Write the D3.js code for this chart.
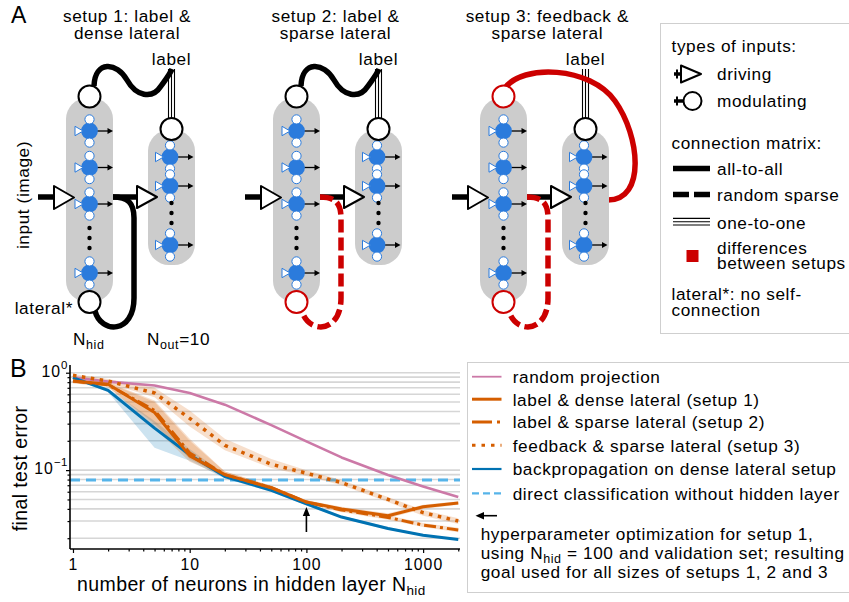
<!DOCTYPE html>
<html>
<head>
<meta charset="utf-8">
<script src="https://cdn.jsdelivr.net/npm/d3@7"></script>
<style>
  body { margin: 0; background: #fff; }
  text { font-family: "Liberation Sans", Arial, Helvetica, sans-serif; }
</style>
</head>
<body>
<script>
// ---------- panel B data: final test error vs. hidden layer size ----------
const nHidden = [1, 2, 5, 10, 20, 50, 100, 200, 500, 1000, 2000];

const randomProjection = [0.89, 0.81, 0.74, 0.62, 0.47, 0.29, 0.197, 0.135, 0.089, 0.068, 0.053];

const labelDense      = [0.82, 0.76, 0.39, 0.14, 0.09, 0.066, 0.047, 0.040, 0.034, 0.042, 0.046];
const labelDenseLow   = [0.78, 0.72, 0.27, 0.122, 0.085, 0.063, 0.045, 0.038, 0.032, 0.040, 0.044];
const labelDenseHigh  = [0.86, 0.80, 0.52, 0.21, 0.097, 0.069, 0.049, 0.042, 0.036, 0.044, 0.048];

const labelSparse     = [0.82, 0.75, 0.41, 0.15, 0.09, 0.066, 0.047, 0.039, 0.0327, 0.0273, 0.0243];
const labelSparseLow  = [0.78, 0.71, 0.30, 0.13, 0.085, 0.063, 0.045, 0.037, 0.031, 0.026, 0.023];
const labelSparseHigh = [0.86, 0.79, 0.50, 0.20, 0.097, 0.069, 0.049, 0.041, 0.0345, 0.0287, 0.0256];

const feedbackSparse     = [0.94, 0.82, 0.62, 0.34, 0.18, 0.115, 0.093, 0.0745, 0.050, 0.0366, 0.030];
const feedbackSparseLow  = [0.91, 0.78, 0.56, 0.28, 0.16, 0.105, 0.087, 0.070, 0.047, 0.034, 0.028];
const feedbackSparseHigh = [0.97, 0.86, 0.70, 0.41, 0.21, 0.130, 0.100, 0.079, 0.053, 0.039, 0.032];

const backprop     = [0.89, 0.66, 0.27, 0.144, 0.086, 0.062, 0.045, 0.033, 0.0252, 0.0215, 0.0194];
const backpropLow  = [0.87, 0.63, 0.17, 0.125, 0.082, 0.060, 0.0435, 0.032, 0.0245, 0.021, 0.019];
const backpropHigh = [0.91, 0.69, 0.32, 0.165, 0.090, 0.064, 0.0465, 0.034, 0.026, 0.022, 0.0198];

const directClassification = 0.079;
const optimizedSize = 100;

const xMajorTicks = [1, 10, 100, 1000];
const xMinorTicks = [2,3,4,5,6,7,8,9, 20,30,40,50,60,70,80,90, 200,300,400,500,600,700,800,900, 2000];
const yMajorTicks = [1, 0.1];
const yMajorLabels = [["10", "0"], ["10", "\u22121"]];
const yGridValues = [0.02,0.03,0.04,0.05,0.06,0.07,0.08,0.09, 0.1,0.2,0.3,0.4,0.5,0.6,0.7,0.8,0.9, 1];

const legendLabels = [
  "random projection",
  "label & dense lateral (setup 1)",
  "label & sparse lateral (setup 2)",
  "feedback & sparse lateral (setup 3)",
  "backpropagation on dense lateral setup",
  "direct classification without hidden layer"
];
const noteLines = [
  ["hyperparameter optimization for setup 1,"],
  ["using N", "hid", " = 100 and validation set; resulting"],
  ["goal used for all sizes of setups 1, 2 and 3"]
];

// ---------- panel A content ----------
const setupTitles = [
  ["setup 1: label &", "dense lateral"],
  ["setup 2: label &", "sparse lateral"],
  ["setup 3: feedback &", "sparse lateral"]
];
const lateralKinds = ["dense", "sparse", "sparse"];
const topInputKinds = ["label", "label", "feedback"];
const legendAInputs = ["driving", "modulating"];
const legendAMatrices = ["all-to-all", "random sparse", "one-to-one"];

// ---------- styling ----------
const FONT = 17.2, LS = 0.6;
const BLUE_N = "#2b7bdc", GRAY = "#cccccc", RED = "#cc0000";
const C_PINK = "#cc79a7", C_ORANGE = "#d55e00", C_BLUE = "#0072b2", C_LIGHT = "#56b4e9";

const svg = d3.select("body").append("svg")
  .attr("width", 849).attr("height", 602)
  .style("display", "block");

function txt(parent, x, y, s, opts = {}) {
  return parent.append("text")
    .attr("x", x).attr("y", y)
    .attr("font-size", opts.size || FONT)
    .attr("letter-spacing", opts.ls === undefined ? LS : opts.ls)
    .attr("text-anchor", opts.anchor || "start")
    .attr("fill", "#000")
    .text(s);
}

// ================= PANEL A =================
txt(svg, 11, 23, "A", { size: 23, ls: 0 });

const setupOffsets = [0, 207, 414];
const titleCenters = [127, 335.5, 547.3];
const HX = 89.5, OX = 171.5;          // hidden / output column centres (local)
const hiddenNeuronsY = [131, 167.5, 204, 273];
const hiddenDotsY = [228, 238, 248];
const outputNeuronsY = [157, 186, 245];
const outputDotsY = [203, 213, 223];
const LINE_Y = 197;

function neuron(g, cx, cy) {
  g.append("line").attr("x1", cx + 7).attr("x2", cx + 19).attr("y1", cy).attr("y2", cy)
    .attr("stroke", "#000").attr("stroke-width", 1.3);
  g.append("path").attr("d", `M${cx + 18},${cy - 2.9}L${cx + 23.5},${cy}L${cx + 18},${cy + 2.9}Z`)
    .attr("fill", "#000");
  g.append("circle").attr("cx", cx).attr("cy", cy).attr("r", 8.4).attr("fill", BLUE_N);
  [-11.6, 11.6].forEach(d => g.append("circle").attr("cx", cx).attr("cy", cy + d).attr("r", 4.6)
    .attr("fill", "#fff").attr("stroke", BLUE_N).attr("stroke-width", 1));
  g.append("path").attr("d", `M${cx - 14.5},${cy - 4.7}L${cx - 6.4},${cy}L${cx - 14.5},${cy + 4.7}Z`)
    .attr("fill", "#fff").attr("stroke", BLUE_N).attr("stroke-width", 1).attr("stroke-linejoin", "round");
}

function drivingTriangle(g, x0, x1, cy, h) {
  g.append("path").attr("d", `M${x0},${cy - h}L${x1},${cy}L${x0},${cy + h}Z`)
    .attr("fill", "#fff").attr("stroke", "#000").attr("stroke-width", 2).attr("stroke-linejoin", "round");
}

function tripleLine(g, cx, y0, y1) {
  [-3, 0, 3].forEach(d => g.append("line").attr("x1", cx + d).attr("x2", cx + d)
    .attr("y1", y0).attr("y2", y1).attr("stroke", "#000").attr("stroke-width", 1.1));
}

setupTitles.forEach((title, i) => {
  const g = svg.append("g").attr("transform", `translate(${setupOffsets[i]},0)`);
  const tc = titleCenters[i] - setupOffsets[i];
  txt(g, tc, 22, title[0], { anchor: "middle" });
  txt(g, tc, 38.5, title[1], { anchor: "middle" });

  // label input: one-to-one into the output layer
  txt(g, OX, 65, "label", { anchor: "middle" });
  tripleLine(g, OX, 69, 119);

  // modulating input onto the hidden layer (from label or feedback from output)
  if (topInputKinds[i] === "label") {
    g.append("path")
      .attr("d", "M94,86 C95,60 117,62 127,80 C136,96 152,100 161,86 C166,79 170,74 172,69")
      .attr("fill", "none").attr("stroke", "#000").attr("stroke-width", 5.5);
  } else {
    g.append("path")
      .attr("d", "M91,88 C108,64 176,66 201,101 C226,136 232,200 194,200")
      .attr("fill", "none").attr("stroke", RED).attr("stroke-width", 5.5);
  }

  // layers
  g.append("rect").attr("x", HX - 23.5).attr("y", 98).attr("width", 47).attr("height", 204)
    .attr("rx", 21).attr("fill", GRAY);
  g.append("rect").attr("x", OX - 23.5).attr("y", 130).attr("width", 47).attr("height", 135)
    .attr("rx", 21).attr("fill", GRAY);

  // feedforward drive: input -> hidden -> output
  g.append("line").attr("x1", 38).attr("x2", 56).attr("y1", LINE_Y).attr("y2", LINE_Y)
    .attr("stroke", "#000").attr("stroke-width", 5.5);
  drivingTriangle(g, 54, 74, LINE_Y + 0.5, 11.5);
  g.append("line").attr("x1", HX + 23.5).attr("x2", 139).attr("y1", LINE_Y).attr("y2", LINE_Y)
    .attr("stroke", "#000").attr("stroke-width", 5.5);

  // lateral connection
  const lateral = g.append("path")
    .attr("d", "M113,197 C128,197 134,203 134,218 L134,298 C134,334 101,334 95,311")
    .attr("fill", "none").attr("stroke-width", 5.5);
  if (lateralKinds[i] === "dense") lateral.attr("stroke", "#000");
  else lateral.attr("stroke", RED).attr("stroke-dasharray", "13,5");

  drivingTriangle(g, 137, 157, LINE_Y, 11);

  hiddenNeuronsY.forEach(y => neuron(g, HX, y));
  hiddenDotsY.forEach(y => g.append("circle").attr("cx", HX).attr("cy", y).attr("r", 2.2).attr("fill", "#000"));
  outputNeuronsY.forEach(y => neuron(g, OX - 1.5, y));
  outputDotsY.forEach(y => g.append("circle").attr("cx", OX).attr("cy", y).attr("r", 2.2).attr("fill", "#000"));

  // modulating input sites
  const topRed = topInputKinds[i] === "feedback";
  const botRed = lateralKinds[i] !== "dense";
  g.append("circle").attr("cx", HX).attr("cy", 96.5).attr("r", 11)
    .attr("fill", "#fff").attr("stroke", topRed ? RED : "#000").attr("stroke-width", 2);
  g.append("circle").attr("cx", HX).attr("cy", 302).attr("r", 11)
    .attr("fill", "#fff").attr("stroke", botRed ? RED : "#000").attr("stroke-width", 2);
  g.append("circle").attr("cx", OX).attr("cy", 129).attr("r", 11)
    .attr("fill", "#fff").attr("stroke", "#000").attr("stroke-width", 2);

  if (i === 0) {
    txt(g, 0, 0, "input (image)", { anchor: "middle" })
      .attr("transform", "translate(29,195) rotate(-90)");
    txt(g, 73, 314, "lateral*", { anchor: "end" });
    const nh = txt(g, 73, 345, "N");
    nh.append("tspan").attr("font-size", 12.5).attr("dy", 4).text("hid");
    const no = txt(g, 147, 345, "N");
    no.append("tspan").attr("font-size", 12.5).attr("dy", 4).text("out");
    no.append("tspan").attr("dy", -4).text("=10");
  }
});

// legend of panel A
const legA = svg.append("g");
legA.append("rect").attr("x", 660.5).attr("y", 23.5).attr("width", 200).attr("height", 310)
  .attr("fill", "#fff").attr("stroke", "#cfcfcf").attr("stroke-width", 1);
txt(legA, 671.5, 51.5, "types of inputs:");
// driving
legA.append("line").attr("x1", 674).attr("x2", 682).attr("y1", 74).attr("y2", 74)
  .attr("stroke", "#000").attr("stroke-width", 3.5);
legA.append("line").attr("x1", 677).attr("x2", 677).attr("y1", 69.5).attr("y2", 78.5)
  .attr("stroke", "#000").attr("stroke-width", 2);
drivingTriangle(legA, 681, 701, 74, 8.5);
txt(legA, 717, 80, legendAInputs[0]);
// modulating
legA.append("line").attr("x1", 674).attr("x2", 684).attr("y1", 101).attr("y2", 101)
  .attr("stroke", "#000").attr("stroke-width", 3.5);
legA.append("line").attr("x1", 677).attr("x2", 677).attr("y1", 96.5).attr("y2", 105.5)
  .attr("stroke", "#000").attr("stroke-width", 2);
legA.append("circle").attr("cx", 692.5).attr("cy", 101).attr("r", 9)
  .attr("fill", "#fff").attr("stroke", "#000").attr("stroke-width", 2);
txt(legA, 717, 107, legendAInputs[1]);

txt(legA, 671.5, 148.5, "connection matrix:");
legA.append("line").attr("x1", 673).attr("x2", 710).attr("y1", 168.5).attr("y2", 168.5)
  .attr("stroke", "#000").attr("stroke-width", 5.5);
txt(legA, 717, 175, legendAMatrices[0]);
legA.append("line").attr("x1", 673).attr("x2", 710).attr("y1", 194.5).attr("y2", 194.5)
  .attr("stroke", "#000").attr("stroke-width", 5.5).attr("stroke-dasharray", "16,5");
txt(legA, 717, 201, legendAMatrices[1]);
tripleLine(legA, 0, 0, 0);
[-3.3, 0, 3.3].forEach(d => legA.append("line").attr("x1", 673).attr("x2", 710)
  .attr("y1", 221.7 + d).attr("y2", 221.7 + d).attr("stroke", "#000").attr("stroke-width", 1.1));
txt(legA, 717, 228.5, legendAMatrices[2]);
legA.append("rect").attr("x", 686.5).attr("y", 250).attr("width", 12).attr("height", 12).attr("fill", RED);
txt(legA, 717, 253.5, "differences");
txt(legA, 717, 268.5, "between setups");
txt(legA, 671.5, 300, "lateral*: no self-");
txt(legA, 671.5, 315.5, "connection");

// ================= PANEL B =================
txt(svg, 10, 377, "B", { size: 25, ls: 0 });

const x = d3.scaleLog().domain([0.943, 2070]).range([70, 460]);
const y = d3.scaleLog().domain([0.0155, 1.2]).range([549, 365]);

const plot = svg.append("g");

// horizontal grid
plot.append("g").selectAll("line").data(yGridValues).join("line")
  .attr("x1", 70).attr("x2", 460)
  .attr("y1", d => y(d)).attr("y2", d => y(d))
  .attr("stroke", "#d6d6d6").attr("stroke-width", 1.6);

// direct classification baseline
plot.append("line")
  .attr("x1", 70).attr("x2", 460)
  .attr("y1", y(directClassification)).attr("y2", y(directClassification))
  .attr("stroke", C_LIGHT).attr("stroke-width", 3).attr("stroke-dasharray", "10,6");

function rows(mid, lo, hi) {
  return nHidden.map((n, i) => ({ n, v: mid[i], lo: lo ? lo[i] : null, hi: hi ? hi[i] : null }));
}
const area = d3.area().x(d => x(d.n)).y0(d => y(d.lo)).y1(d => y(d.hi));
const line = d3.line().x(d => x(d.n)).y(d => y(d.v));

const bands = [
  { d: rows(feedbackSparse, feedbackSparseLow, feedbackSparseHigh), fill: C_ORANGE, op: 0.2 },
  { d: rows(backprop, backpropLow, backpropHigh), fill: C_BLUE, op: 0.2 },
  { d: rows(labelSparse, labelSparseLow, labelSparseHigh), fill: C_ORANGE, op: 0.2 },
  { d: rows(labelDense, labelDenseLow, labelDenseHigh), fill: C_ORANGE, op: 0.2 }
];
bands.forEach(b => plot.append("path").attr("d", area(b.d)).attr("fill", b.fill).attr("fill-opacity", b.op));

const seriesStyles = [
  { data: randomProjection, color: C_PINK, w: 2.6, dash: null, lw: 1.8, ldash: null },
  { data: labelDense, color: C_ORANGE, w: 3, dash: null, lw: 3, ldash: null },
  { data: labelSparse, color: C_ORANGE, w: 3, dash: "12,4,3,4", lw: 3, ldash: "20,5,3,5" },
  { data: feedbackSparse, color: C_ORANGE, w: 3.5, dash: "3.5,5.5", lw: 3, ldash: "3.5,6" },
  { data: backprop, color: C_BLUE, w: 3, dash: null, lw: 2.2, ldash: null },
  { data: null, color: C_LIGHT, w: 3, dash: "10,6", lw: 2.2, ldash: "7,4" }
];
const drawOrder = [0, 4, 2, 1, 3];
drawOrder.forEach(k => {
  const s = seriesStyles[k];
  const p = plot.append("path").attr("d", line(rows(s.data)))
    .attr("fill", "none").attr("stroke", s.color).attr("stroke-width", s.w)
    .attr("stroke-linejoin", "round");
  if (s.dash) p.attr("stroke-dasharray", s.dash);
});

// axes
const xAxis = plot.append("g").attr("transform", "translate(0,549)")
  .call(d3.axisBottom(x).tickValues(xMajorTicks).tickSize(4).tickSizeOuter(0)
    .tickPadding(6).tickFormat(d3.format("d")));
plot.append("g").attr("transform", "translate(0,549)")
  .call(d3.axisBottom(x).tickValues(xMinorTicks).tickSize(2.5).tickFormat(""))
  .call(g => g.select(".domain").remove());
const yAxis = plot.append("g").attr("transform", "translate(70,0)")
  .call(d3.axisLeft(y).tickValues(yMajorTicks).tickSize(4).tickSizeOuter(0).tickFormat(""));
plot.append("g").attr("transform", "translate(70,0)")
  .call(d3.axisLeft(y).tickValues(yGridValues.filter(v => yMajorTicks.indexOf(v) < 0)).tickSize(2.5).tickFormat(""))
  .call(g => g.select(".domain").remove());

svg.selectAll(".domain").attr("stroke", "#000").attr("stroke-width", 1.6);
svg.selectAll(".tick line").attr("stroke", "#000").attr("stroke-width", 1.2);
xAxis.selectAll("text").attr("font-size", 15.8).attr("letter-spacing", 1)
  .attr("font-family", "'Liberation Sans', Arial, sans-serif").attr("fill", "#000");
// extend the y-axis domain line to the top of the plot
yAxis.select(".domain").attr("d", `M0,549V365`);
xAxis.select(".domain").attr("d", `M70,0H460`);

yMajorTicks.forEach((v, i) => {
  const t = txt(plot, 68, y(v) + 4, yMajorLabels[i][0], { anchor: "end", size: 15.8, ls: 1 });
  t.append("tspan").attr("font-size", 11.5).attr("dy", -8).attr("letter-spacing", 0.5).text(yMajorLabels[i][1]);
});

// axis titles
txt(svg, 0, 0, "final test error", { anchor: "middle", size: 19.5, ls: 0.4 })
  .attr("transform", "translate(26.5,468.5) rotate(-90)");
const xl = txt(svg, 77, 590.5, "number of neurons in hidden layer N", { size: 19.5, ls: 0.4 });
xl.append("tspan").attr("font-size", 13.5).attr("dy", 4).text("hid");

// marker for the network size used during hyperparameter search
const ax = x(optimizedSize);
plot.append("line").attr("x1", ax).attr("x2", ax).attr("y1", 532).attr("y2", 514)
  .attr("stroke", "#000").attr("stroke-width", 1.6);
plot.append("path").attr("d", `M${ax - 3.6},${516}L${ax},${507}L${ax + 3.6},${516}Z`).attr("fill", "#000");

// legend of panel B
const legB = svg.append("g");
legB.append("rect").attr("x", 467.5).attr("y", 362.5).attr("width", 400).attr("height", 230)
  .attr("fill", "#fff").attr("stroke", "#cfcfcf").attr("stroke-width", 1);
const rowY = [376.7, 399.2, 421.9, 445.2, 469, 493.3];
legendLabels.forEach((lab, i) => {
  const s = seriesStyles[i];
  const l = legB.append("line").attr("x1", 472).attr("x2", 501.5).attr("y1", rowY[i]).attr("y2", rowY[i])
    .attr("stroke", s.color).attr("stroke-width", s.lw);
  if (s.ldash) l.attr("stroke-dasharray", s.ldash);
  txt(legB, 512.7, rowY[i] + 6.3, lab);
});
legB.append("line").attr("x1", 497).attr("x2", 480).attr("y1", 515.7).attr("y2", 515.7)
  .attr("stroke", "#000").attr("stroke-width", 1.6);
legB.append("path").attr("d", `M484,512L475.5,515.7L484,519.4Z`).attr("fill", "#000");
const noteY = [540, 558.8, 577.6];
noteLines.forEach((parts, i) => {
  const t = txt(legB, 480.7, noteY[i], parts[0]);
  if (parts.length > 1) {
    t.append("tspan").attr("font-size", 12.5).attr("dy", 4).text(parts[1]);
    t.append("tspan").attr("dy", -4).text(parts[2]);
  }
});
</script>
</body>
</html>
